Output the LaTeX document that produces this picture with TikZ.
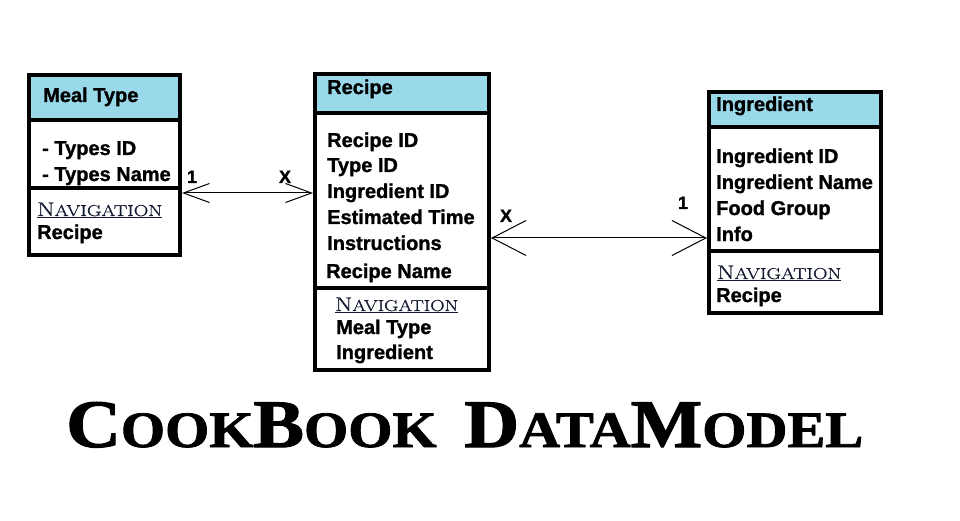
\documentclass[tikz,border=0pt]{standalone}
\usepackage{fontspec}
\setmainfont{Liberation Sans}[BoldFeatures={FakeBold=1.2}]
\newfontfamily\titlefont{Liberation Serif}[BoldFeatures={FakeBold=1.5}]
\newfontfamily\navfont{Latin Modern Roman}[FakeBold=0.8]
\usetikzlibrary{arrows.meta}
\definecolor{hdr}{HTML}{99D9EA}
\definecolor{navc}{HTML}{121A30}
\newcommand\navtext[1]{\textcolor{navc}{\underline{\resizebox{#1}{13.5pt}{\navfont{\fontsize{20}{20}\selectfont N}{\fontsize{16}{16}\selectfont AVIGATION}}}}}
\newcommand\bigc[1]{{\fontsize{60}{60}\selectfont #1}}
\newcommand\smc[1]{{\fontsize{45}{45}\selectfont #1}}
\tikzset{
  box/.style={draw, line width=4pt, inner sep=0pt, anchor=north west},
  sepline/.style={line width=4pt},
  txt/.style={anchor=base west, inner sep=0pt, font=\fontsize{20}{20}\selectfont\bfseries},
  nav/.style={anchor=base west, inner sep=0pt},
  card/.style={anchor=base, inner sep=0pt, font=\fontsize{18}{18}\selectfont\bfseries},
  connA/.style={line width=1pt, {Straight Barb[length=26pt,width=19pt]}-{Straight Barb[length=26pt,width=19pt]}},
  connB/.style={line width=1pt, {Straight Barb[length=34pt,width=35pt]}-{Straight Barb[length=34pt,width=35pt]}},
}
\begin{document}
\begin{tikzpicture}[x=1pt,y=-1pt]
\fill[white] (0,0) rectangle (960,521);
\useasboundingbox (0,0) rectangle (960,521);

% boxes
\node[box, minimum width=151pt, minimum height=180pt] (meal) at (27,73) {};
\node[box, minimum width=174pt, minimum height=296pt] (recipe) at (313,72) {};
\node[box, minimum width=172pt, minimum height=221pt] (ingr) at (707,90) {};

% header fills
\fill[hdr] (31,77) rectangle (178,118);
\fill[hdr] (317,76) rectangle (487,111);
\fill[hdr] (711,94) rectangle (879,125);

% dividers
\draw[sepline] (meal.west |- 0,120) -- (meal.east |- 0,120);
\draw[sepline] (meal.west |- 0,188.5) -- (meal.east |- 0,188.5);
\draw[sepline] (recipe.west |- 0,113) -- (recipe.east |- 0,113);
\draw[sepline] (recipe.west |- 0,287.5) -- (recipe.east |- 0,287.5);
\draw[sepline] (ingr.west |- 0,127) -- (ingr.east |- 0,127);
\draw[sepline] (ingr.west |- 0,250.5) -- (ingr.east |- 0,250.5);

% Meal Type texts
\node[txt] (mth) at (43,102) {Meal Type};
\node[txt] (mt1) at (42,155) {- Types ID};
\node[txt] (mt2) at (42,181) {- Types Name};
\node[nav] (mtn) at (37,216) {\navtext{125pt}};
\node[txt] (mt3) at (37,239) {Recipe};

% Recipe texts
\node[txt] (rh) at (327,94) {Recipe};
\node[txt] (r1) at (327,147) {Recipe ID};
\node[txt] (r2) at (327,172) {Type ID};
\node[txt] (r3) at (327,198) {Ingredient ID};
\node[txt] (r4) at (327,224) {Estimated Time};
\node[txt] (r5) at (327,250) {Instructions};
\node[txt] (r6) at (326,278) {Recipe Name};
\node[nav] (rn) at (335,311) {\navtext{123pt}};
\node[txt] (r7) at (336,334) {Meal Type};
\node[txt] (r8) at (336,359) {Ingredient};

% Ingredient texts
\node[txt] (ih) at (716,111) {Ingredient};
\node[txt] (i1) at (716,163) {Ingredient ID};
\node[txt] (i2) at (716,189) {Ingredient Name};
\node[txt] (i3) at (716,215) {Food Group};
\node[txt] (i4) at (716,241) {Info};
\node[nav] (in) at (717,279) {\navtext{124pt}};
\node[txt] (i5) at (716,302) {Recipe};

% connectors
\draw[connA] (meal.east |- 0,193) -- (recipe.west |- 0,193);
\draw[connB] (recipe.east |- 0,238) -- (ingr.west |- 0,238);

% cardinalities
\node[card] (c1) at (192,183) {1};
\node[card] (c2) at (285,183) {X};
\node[card] (c3) at (506,222) {X};
\node[card] (c4) at (683,209) {1};

% title
\node[anchor=base west, inner sep=0pt] (title) at (66,447) {\resizebox{797pt}{45pt}{\titlefont\bfseries \bigc{C}\smc{OOK}\bigc{B}\smc{OOK}\hspace{22pt}\bigc{D}\smc{ATA}\bigc{M}\smc{ODEL}}};
\end{tikzpicture}
\end{document}
